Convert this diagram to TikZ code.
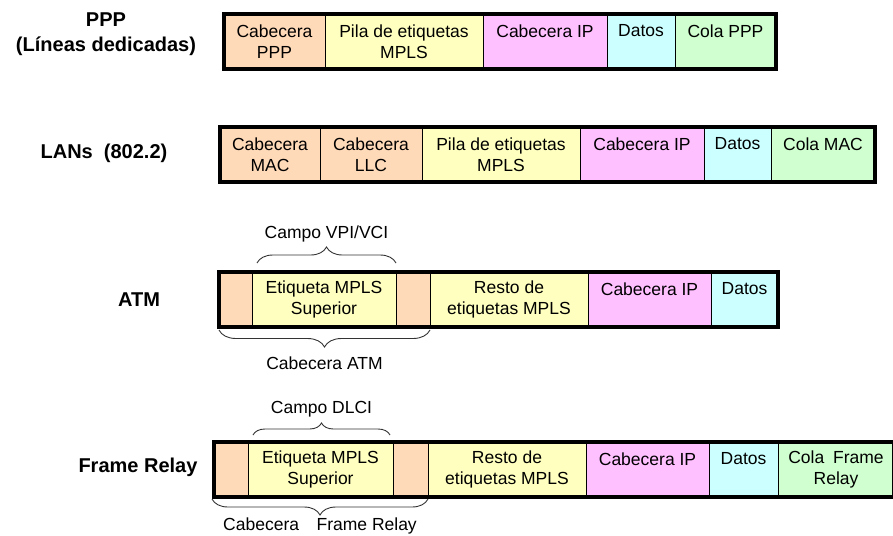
\documentclass[tikz,border=0pt]{standalone}
\usepackage{fontspec}
\setmainfont{Liberation Sans}
\usetikzlibrary{positioning,fit,decorations.pathreplacing}
\definecolor{cabcol}{RGB}{255,218,185}
\definecolor{pilacol}{RGB}{255,255,192}
\definecolor{ipcol}{RGB}{255,192,255}
\definecolor{datcol}{RGB}{204,255,255}
\definecolor{colcol}{RGB}{208,255,208}
\newcommand{\cellfont}{\fontsize{17.5}{21.5}\selectfont}

\begin{document}
\begin{tikzpicture}[x=1pt, y=-1pt,
  cell/.style={draw, minimum width=#1, minimum height=55pt, inner sep=0pt, outer sep=0pt, align=center, font=\cellfont},
  frame/.style={draw, line width=3.5pt, inner sep=0pt},
  row/.style={font=\bfseries\fontsize{20}{25}\selectfont, align=center},
  lab/.style={font=\cellfont, inner sep=1pt, text=black},
  brace/.style={decorate, decoration={brace, amplitude=#1}, line width=0.9pt, black!80},
  mbrace/.style={decorate, decoration={brace, mirror, amplitude=#1}, line width=0.9pt, black!80},
  node distance=0pt]
\useasboundingbox (0,0) rectangle (893,535);
% PPP
\node[cell=101pt, fill=cabcol, anchor=north west] (p1) at (224,14) {Cabecera\\PPP};
\node[cell=158pt, fill=pilacol, right=of p1] (p2) {Pila de etiquetas\\MPLS};
\node[cell=124pt, fill=ipcol, right=of p2] (p3) {Cabecera IP\\~};
\node[cell=68pt, fill=datcol, right=of p3] (p4) {Datos\\~};
\node[cell=101pt, fill=colcol, right=of p4] (p5) {Cola PPP\\~};
\node[frame, fit=(p1)(p5)] (fppp) {};
\node[row] (lppp) at (106,34) {PPP\\(Líneas dedicadas)};
% LANs
\node[cell=100pt, fill=cabcol, anchor=north west] (m1) at (220,127) {Cabecera\\MAC};
\node[cell=102pt, fill=cabcol, right=of m1] (m2) {Cabecera\\LLC};
\node[cell=158pt, fill=pilacol, right=of m2] (m3) {Pila de etiquetas\\MPLS};
\node[cell=124pt, fill=ipcol, right=of m3] (m4) {Cabecera IP\\~};
\node[cell=67pt, fill=datcol, right=of m4] (m5) {Datos\\~};
\node[cell=104pt, fill=colcol, right=of m5] (m6) {Cola MAC\\~};
\node[frame, fit=(m1)(m6)] (flan) {};
\node[row] (llan) at (104,153) {LANs\ \ (802.2)};
% ATM
\node[cell=33pt, fill=cabcol, anchor=north west] (a1) at (219,272) {};
\node[cell=144pt, fill=pilacol, right=of a1] (a2) {Etiqueta MPLS\\Superior};
\node[cell=34pt, fill=cabcol, right=of a2] (a3) {};
\node[cell=158pt, fill=pilacol, right=of a3] (a4) {Resto de\\etiquetas MPLS};
\node[cell=123pt, fill=ipcol, right=of a4] (a5) {Cabecera IP\\~};
\node[cell=67pt, fill=datcol, right=of a5] (a6) {Datos\\~};
\node[frame, fit=(a1)(a6)] (fatm) {};
\node[row] (latm) at (139,300) {ATM};
\draw[brace=16pt] ([xshift=5pt,yshift=9pt]a2.north west) -- ([yshift=9pt]a2.north east)
  node[lab, midway, above=19pt] (lvpi) {Campo VPI/VCI};
\draw[mbrace=17pt] ([yshift=-3pt]a1.south west) -- ([yshift=-3pt]a3.south east)
  node[lab, midway, below=25pt] (lcatm) {Cabecera ATM};
% Frame Relay
\node[cell=34pt, fill=cabcol, anchor=north west] (f1) at (214,442) {};
\node[cell=145pt, fill=pilacol, right=of f1] (f2) {Etiqueta MPLS\\Superior};
\node[cell=35pt, fill=cabcol, right=of f2] (f3) {};
\node[cell=158pt, fill=pilacol, right=of f3] (f4) {Resto de\\etiquetas MPLS};
\node[cell=123pt, fill=ipcol, right=of f4] (f5) {Cabecera IP\\~};
\node[cell=69pt, fill=datcol, right=of f5] (f6) {Datos\\~};
\node[cell=116pt, fill=colcol, right=of f6] (f7) {Cola\enspace Frame\\Relay};
\node[frame, fit=(f1)(f7)] (ffr) {};
\node[row] (lfr) at (138,467) {Frame Relay};
\draw[brace=12pt] ([xshift=5pt,yshift=7pt]f2.north west) -- ([xshift=-3pt,yshift=7pt]f2.north east)
  node[lab, midway, above=16pt] (ldlci) {Campo DLCI};
\draw[mbrace=16pt] ([xshift=-2pt,yshift=-2pt]f1.south west) -- ([yshift=-2pt]f3.south east)
  node[lab, midway, below=17pt] (lcfr) {Cabecera\quad Frame Relay};
\end{tikzpicture}
\end{document}
